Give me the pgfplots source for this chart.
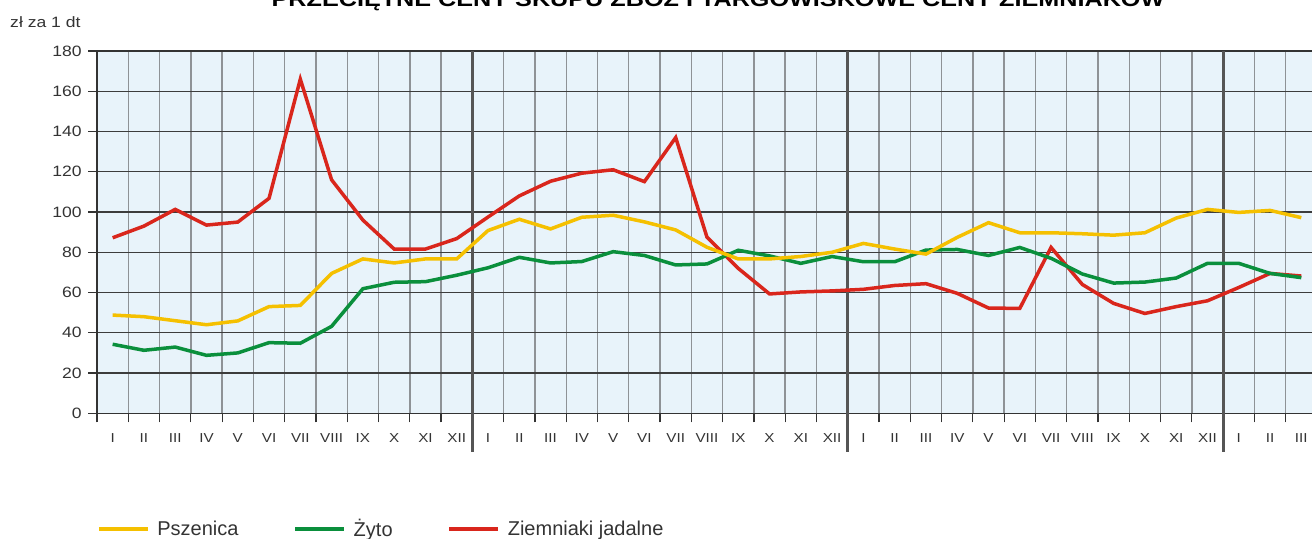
\documentclass[border=0pt]{standalone}
\usepackage{fontspec}
\setmainfont{Liberation Sans}
\usepackage{graphicx}
\usepackage{pgfplots}
\pgfplotsset{compat=1.18}
\definecolor{cYel}{HTML}{F5C000}
\definecolor{cGre}{HTML}{0A8F3C}
\definecolor{cRed}{HTML}{D9261C}
\definecolor{cBg}{HTML}{E8F3FA}
\definecolor{cHgrid}{HTML}{3C3C3C}
\definecolor{cVgrid}{HTML}{8E9296}
\definecolor{cYear}{HTML}{555555}
\definecolor{cAxis}{HTML}{333333}
\definecolor{cText}{HTML}{333333}
\begin{document}
\begin{tikzpicture}
\useasboundingbox (0bp,0bp) rectangle (1312bp,539bp);
\begin{axis}[
  at={(97bp,125.7bp)}, anchor=south west,
  scale only axis, width=1220bp, height=362.3bp,
  xmin=0, xmax=39, ymin=0, ymax=180,
  axis background/.style={fill=cBg},
  xtick={0,...,39}, x tick label as interval,
  xticklabels={I,II,III,IV,V,VI,VII,VIII,IX,X,XI,XII,I,II,III,IV,V,VI,VII,VIII,IX,X,XI,XII,I,II,III,IV,V,VI,VII,VIII,IX,X,XI,XII,I,II,III},
  ytick={0,20,...,180},
  grid=major,
  x grid style={color=cVgrid, line width=1.4bp},
  y grid style={color=cHgrid, line width=1.1bp},
  tick align=outside, major tick length=9bp,
  tick style={color=cAxis, line width=1.2bp},
  xtick pos=left, ytick pos=left,
  axis line style={color=cAxis, line width=1.3bp},
  extra x ticks={12,24,36}, extra x tick labels={},
  extra x tick style={x tick label as interval=false, major tick length=38.4bp,
     xmajorgrids=true,
     tick style={color=cYear, line width=3bp},
     x grid style={color=cYear, line width=3bp},
     major grid style={color=cYear, line width=3bp}},
  /pgf/number format/assume math mode=true,
  yticklabel style={font=\fontsize{15bp}{18bp}\selectfont, text=cText, xscale=1.17, xshift=-2bp},
  xticklabel style={font=\fontsize{13bp}{15bp}\selectfont, text=cText, xscale=1.17, yshift=-8bp},
  legend columns=3,
  legend style={at={(axis description cs:0,0)}, anchor=west, yshift=-115.7bp,
     draw=none, fill=none, inner sep=0pt,
     font=\fontsize{20bp}{23bp}\selectfont, text=cText,
     /tikz/every odd column/.append style={column sep=6bp},
     /tikz/every even column/.append style={column sep=53bp}},
  legend image code/.code={\draw[#1, line width=3.2bp] (0bp,0bp) -- (49bp,0bp);},
]
\addlegendimage{cYel}\addlegendentry{Pszenica}
\addlegendimage{cGre}\addlegendentry{Żyto}
\addlegendimage{cRed}\addlegendentry{Ziemniaki jadalne}
% Ziemniaki jadalne
\addplot[cRed, line width=3.5bp, forget plot] coordinates {
(0.5,87.2)(1.5,93.0)(2.5,101.3)(3.5,93.5)(4.5,95.0)(5.5,106.8)(6.5,166.0)(7.5,116.0)(8.5,96.0)(9.5,81.6)(10.5,81.6)(11.5,86.8)
(12.5,97.5)(13.5,108.0)(14.5,115.3)(15.5,119.3)(16.5,121.0)(17.5,115.1)(18.5,137.0)(19.5,87.5)(20.5,72.0)(21.5,59.3)(22.5,60.3)(23.5,60.8)
(24.5,61.6)(25.5,63.5)(26.5,64.4)(27.5,59.6)(28.5,52.3)(29.5,52.1)(30.5,82.4)(31.5,64.0)(32.5,54.6)(33.5,49.6)(34.5,53.0)(35.5,55.9)
(36.5,62.5)(37.5,69.5)(38.5,68.2)};
% Zyto
\addplot[cGre, line width=3.5bp, forget plot] coordinates {
(0.5,34.3)(1.5,31.3)(2.5,32.9)(3.5,28.8)(4.5,30.0)(5.5,35.1)(6.5,34.8)(7.5,43.2)(8.5,61.9)(9.5,65.1)(10.5,65.4)(11.5,68.6)
(12.5,72.3)(13.5,77.5)(14.5,74.7)(15.5,75.4)(16.5,80.3)(17.5,78.4)(18.5,73.7)(19.5,74.2)(20.5,81.0)(21.5,78.2)(22.5,74.5)(23.5,77.9)
(24.5,75.3)(25.5,75.3)(26.5,81.1)(27.5,81.4)(28.5,78.4)(29.5,82.4)(30.5,77.0)(31.5,69.2)(32.5,64.7)(33.5,65.2)(34.5,67.2)(35.5,74.5)
(36.5,74.5)(37.5,69.5)(38.5,67.4)};
% Pszenica
\addplot[cYel, line width=3.5bp, forget plot] coordinates {
(0.5,48.8)(1.5,48.0)(2.5,46.0)(3.5,44.0)(4.5,45.9)(5.5,53.0)(6.5,53.6)(7.5,69.5)(8.5,76.7)(9.5,74.7)(10.5,76.7)(11.5,76.7)
(12.5,90.8)(13.5,96.4)(14.5,91.6)(15.5,97.4)(16.5,98.4)(17.5,95.1)(18.5,91.1)(19.5,82.5)(20.5,76.7)(21.5,76.7)(22.5,77.9)(23.5,80.0)
(24.5,84.4)(25.5,81.6)(26.5,79.1)(27.5,87.4)(28.5,94.7)(29.5,89.7)(30.5,89.7)(31.5,89.2)(32.5,88.5)(33.5,89.7)(34.5,97.0)(35.5,101.3)
(36.5,99.8)(37.5,100.8)(38.5,97.2)};
\node[font=\fontsize{16.3bp}{19bp}\selectfont, text=cText, xscale=1.17] at (axis cs:6,0) [yshift=-62.4bp] {2010};
\node[font=\fontsize{16.3bp}{19bp}\selectfont, text=cText, xscale=1.17] at (axis cs:18,0) [yshift=-62.4bp] {2011};
\node[font=\fontsize{16.3bp}{19bp}\selectfont, text=cText, xscale=1.17] at (axis cs:30,0) [yshift=-62.4bp] {2012};
\node[font=\fontsize{16.3bp}{19bp}\selectfont, text=cText, xscale=1.17] at (axis cs:37.5,0) [yshift=-62.4bp] {2013};
\end{axis}
\node[anchor=base west, inner sep=0pt, font=\fontsize{15bp}{18bp}\selectfont, text=cText, xscale=1.17] at (10bp,511bp) {zł za 1 dt};
\node[anchor=base, inner sep=0pt, font=\bfseries\fontsize{21bp}{24bp}\selectfont, xscale=1.2] at (718bp,532bp) {PRZECIĘTNE CENY SKUPU ZBÓŻ I TARGOWISKOWE CENY ZIEMNIAKÓW};
\end{tikzpicture}
\end{document}
